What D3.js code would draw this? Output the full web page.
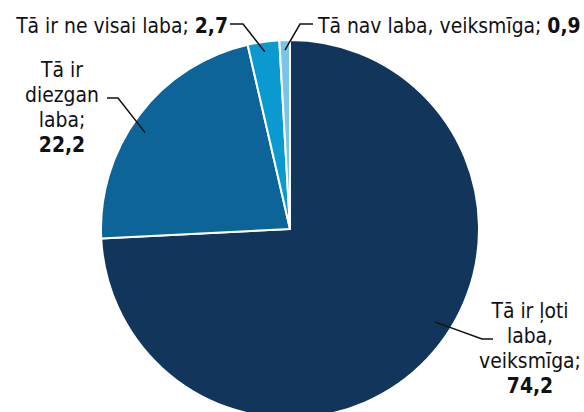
<!DOCTYPE html>
<html>
<head>
<meta charset="utf-8">
<script src="https://cdn.jsdelivr.net/npm/d3@7"></script>
<style>
  body { margin: 0; background: #fff; }
  text { font-family: "DejaVu Sans Condensed", sans-serif; font-size: 22px; fill: #111; }
</style>
</head>
<body>
<div id="chart"></div>
<script>
// answers, clockwise from 12 o'clock
var categories = ["Tā ir ļoti laba, veiksmīga", "Tā ir diezgan laba", "Tā ir ne visai laba", "Tā nav laba, veiksmīga"];
var values = [74.2, 22.2, 2.7, 0.9];
var valueLabels = ["74,2", "22,2", "2,7", "0,9"];
var colors = ["#12355b", "#0c6499", "#0b9ad0", "#7cc3ea"];

// label text lines (last line gets the bold value)
var labelLines = [
    ["Tā ir ļoti", "laba,", "veiksmīga;"],
    ["Tā ir", "diezgan", "laba;"],
    ["Tā ir ne visai laba; "],
    ["Tā nav laba, veiksmīga; "]
];

var width = 584, height = 412;
var cx = 290, cy = 229, radius = 189;
var squeeze = 0.95; // font is a bit narrower in the original

var svg = d3.select("#chart").append("svg")
        .attr("width", width)
        .attr("height", height);

var pie = d3.pie().sort(null).value(function (d) { return d; });
var arc = d3.arc().innerRadius(0).outerRadius(radius);
var arcs = pie(values);

var g = svg.append("g").attr("transform", "translate(" + cx + "," + cy + ")");

g.selectAll("path")
        .data(arcs)
        .enter().append("path")
        .attr("d", arc)
        .attr("fill", function (d, i) { return colors[i]; })
        .attr("stroke", "#fff")
        .attr("stroke-width", 2)
        .attr("stroke-linejoin", "round");

// label layout: where text sits, elbow of leader, tip angle shift and radius
var layout = [
    {anchor: "middle", x: 530, y: 318, elbowX: 493, elbowY: 339, tipShift: -0.19, tipR: 172, stack: true},
    {anchor: "middle", x: 62, y: 77, elbowX: 107, elbowY: 98, tipShift: -0.06, tipR: 174, stack: true},
    {anchor: "end", x: 228, y: 33, elbowX: 230, elbowY: 24, tipShift: 0, tipR: 179, stack: false},
    {anchor: "start", x: 318, y: 33, elbowX: 313, elbowY: 24, tipShift: 0, tipR: 179, stack: false}
];

var lineH = 25;

arcs.forEach(function (a, i) {
    var L = layout[i];
    var mid = (a.startAngle + a.endAngle) / 2 + L.tipShift;
    var tx = L.tipR * Math.sin(mid), ty = -L.tipR * Math.cos(mid);

    // leader: short horizontal stub then diagonal to the slice
    var stubX = L.anchor === "middle" ? (L.elbowX < cx ? L.elbowX + 11 : L.elbowX - 11)
            : (L.anchor === "end" ? L.elbowX + 13 : L.elbowX - 13);
    g.append("path")
            .attr("d", "M" + (L.elbowX - cx) + "," + (L.elbowY - cy) +
                    "L" + (stubX - cx) + "," + (L.elbowY - cy) +
                    "L" + tx + "," + ty)
            .attr("fill", "none")
            .attr("stroke", "#111")
            .attr("stroke-width", 1.5);

    var t = svg.append("g")
            .attr("transform", "translate(" + L.x + "," + L.y + ") scale(" + squeeze + ",1)")
            .append("text")
            .attr("text-anchor", L.anchor);
    if (L.stack) {
        labelLines[i].forEach(function (s, k) {
            t.append("tspan").attr("x", 0).attr("dy", k === 0 ? 0 : lineH).text(s);
        });
        t.append("tspan").attr("x", 0).attr("dy", lineH)
                .attr("font-weight", "bold").text(valueLabels[i]);
    } else {
        t.append("tspan").text(labelLines[i][0]);
        t.append("tspan").attr("font-weight", "bold").text(valueLabels[i]);
    }
});
</script>
</body>
</html>
